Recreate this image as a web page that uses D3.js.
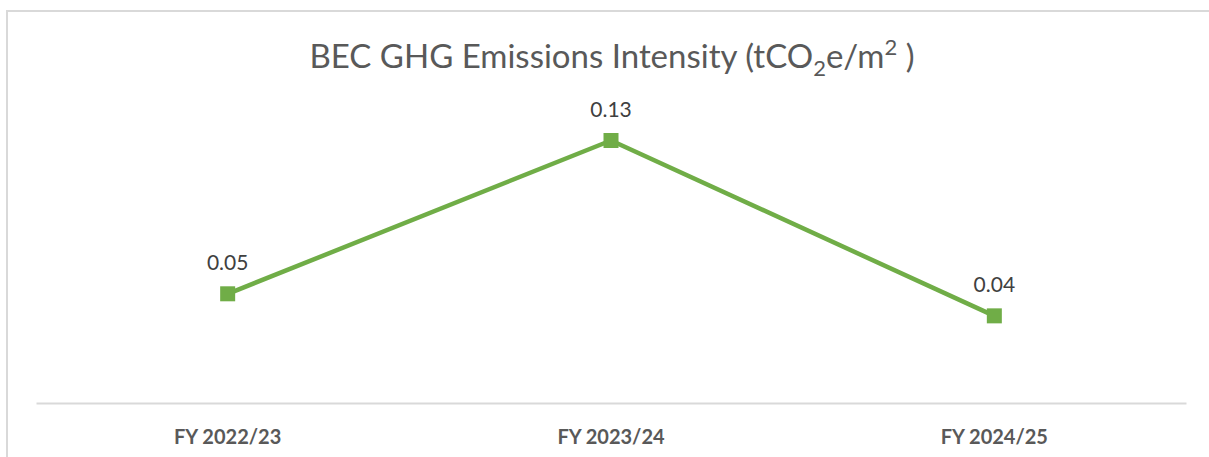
<!DOCTYPE html>
<html>
<head>
<meta charset="utf-8">
<script src="https://cdn.jsdelivr.net/npm/d3@7"></script>
<style>
body { margin: 0; background: #fff; }
text { font-family: Lato, "Open Sans", sans-serif; }
</style>
</head>
<body>
<svg width="1209" height="457"></svg>
<script>
var years = ["FY 2022/23", "FY 2023/24", "FY 2024/25"]
var intensity = [0.052, 0.125, 0.0415]
var labels = ["0.05", "0.13", "0.04"]

var svg = d3.select("svg")
var green = "#70ad47"

// chart frame (only left and top visible in the crop)
svg.append("path")
    .attr("d", "M7,457V11H1209")
    .attr("fill", "none")
    .attr("stroke", "#d9d9d9")
    .attr("stroke-width", 2)

var x_scale = d3.scaleBand()
    .domain(years)
    .range([36, 1186])

var y_scale = d3.scaleLinear()
    .domain([0, 0.14])
    .range([403, 109])

// title
var title = svg.append("text")
    .attr("x", 612)
    .attr("y", 68)
    .attr("text-anchor", "middle")
    .attr("fill", "#595959")
    .style("font-size", "33px")
title.append("tspan").text("BEC GHG Emissions Intensity (tCO")
title.append("tspan").attr("dy", 8).style("font-size", "22px").text("2")
title.append("tspan").attr("dy", -8).text("e/m")
title.append("tspan").attr("dy", -13).style("font-size", "22px").text("2")
title.append("tspan").attr("dy", 13).text(" )")

// category axis
var axis = svg.append("g")
    .attr("transform", "translate(0,403)")
    .call(d3.axisBottom(x_scale).tickSize(0).tickPadding(0))
axis.select(".domain").attr("stroke", "#d9d9d9").attr("stroke-width", 2)
axis.selectAll("text")
    .attr("y", 41)
    .attr("dy", 0)
    .attr("fill", "#595959")
    .style("font-size", "20px")
    .style("font-weight", "bold")
    .style("font-family", "Lato, 'Open Sans', sans-serif")

var line = d3.line()
    .x(function (d, i) { return x_scale(years[i]) + x_scale.bandwidth() / 2 })
    .y(function (d) { return y_scale(d) })

svg.append("path")
    .datum(intensity)
    .attr("fill", "none")
    .attr("stroke", green)
    .attr("stroke-width", 4.5)
    .attr("stroke-linejoin", "round")
    .attr("d", line)

var size = 15
svg.selectAll(".marker")
    .data(intensity)
    .enter().append("rect")
    .attr("class", "marker")
    .attr("x", function (d, i) { return x_scale(years[i]) + x_scale.bandwidth() / 2 - size / 2 })
    .attr("y", function (d) { return y_scale(d) - size / 2 })
    .attr("width", size)
    .attr("height", size)
    .attr("fill", green)

svg.selectAll(".dlabel")
    .data(intensity)
    .enter().append("text")
    .attr("class", "dlabel")
    .attr("x", function (d, i) { return x_scale(years[i]) + x_scale.bandwidth() / 2 })
    .attr("y", function (d) { return y_scale(d) - 24 })
    .attr("text-anchor", "middle")
    .attr("fill", "#404040")
    .style("font-size", "21px")
    .text(function (d, i) { return labels[i] })
</script>
</body>
</html>
